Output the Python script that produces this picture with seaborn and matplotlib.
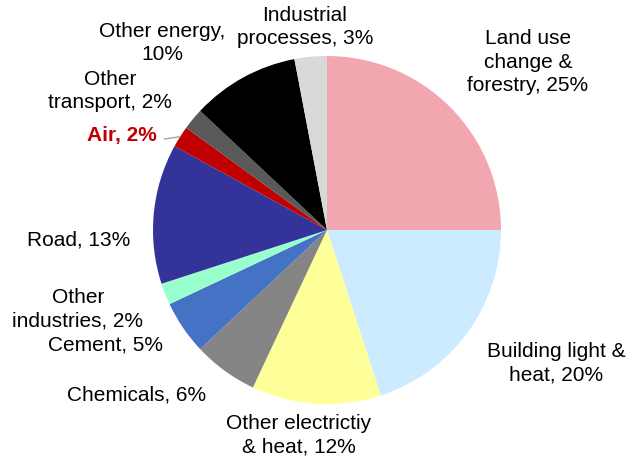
import numpy as np
import matplotlib
matplotlib.use("Agg")
import matplotlib.pyplot as plt
import seaborn as sns

# data, clockwise from 12 o'clock
sectors = [
    "Land use\nchange &\nforestry",
    "Building light &\nheat",
    "Other electrictiy\n& heat",
    "Chemicals",
    "Cement",
    "Other\nindustries",
    "Road",
    "Air",
    "Other\ntransport",
    "Other energy,\n",
    "Industrial\nprocesses",
]
shares = [25, 20, 12, 6, 5, 2, 13, 2, 2, 10, 3]
colors = ["#F2A7B0", "#CCEBFF", "#FFFF99", "#858585", "#4472C4", "#99FFCC",
          "#333399", "#C00000", "#595959", "#000000", "#D9D9D9"]

# label centres in pixels (top-left origin)
label_pos = [(528, 62), (556, 363), (299, 435), (137, 395), (105, 345), (78, 309),
             (79, 240), (122, 135), (110, 91), (162, 43), (305, 27)]

W, H = 629, 459

sns.set_theme(style="white")
plt.rcParams["font.family"] = ["Liberation Sans", "DejaVu Sans"]

fig = plt.figure(figsize=(W / 100, H / 100), dpi=100)
ax = fig.add_axes([0, 0, 1, 1])

wedges, _ = ax.pie(shares, colors=colors, startangle=90, counterclock=False,
                   radius=174, center=(327, H - 230),
                   wedgeprops=dict(linewidth=0))
ax.set_xlim(0, W)
ax.set_ylim(0, H)
ax.set_aspect("equal")
ax.axis("off")


def make_label(name, val):
    # "Other energy,\n" puts the value on its own line
    if name.endswith("\n"):
        return f"{name}{val}%"
    return f"{name}, {val}%"


for name, val, (px, py) in zip(sectors, shares, label_pos):
    txt = make_label(name, val)
    if name == "Air":
        ax.text(px, H - py, txt, ha="center", va="center", fontsize=15,
                color="#C00000", fontweight="bold")
    else:
        ax.text(px, H - py, txt, ha="center", va="center", fontsize=15,
                color="black", linespacing=1.32)

# leader line for the Air slice
air = wedges[sectors.index("Air")]
mid = np.deg2rad((air.theta1 + air.theta2) / 2)
ex = air.center[0] + air.r * np.cos(mid)
ey = air.center[1] + air.r * np.sin(mid)
ax.plot([164, ex], [H - 139, ey], color="#A6A6A6", lw=1)

fig.savefig("out.png", dpi=100)
